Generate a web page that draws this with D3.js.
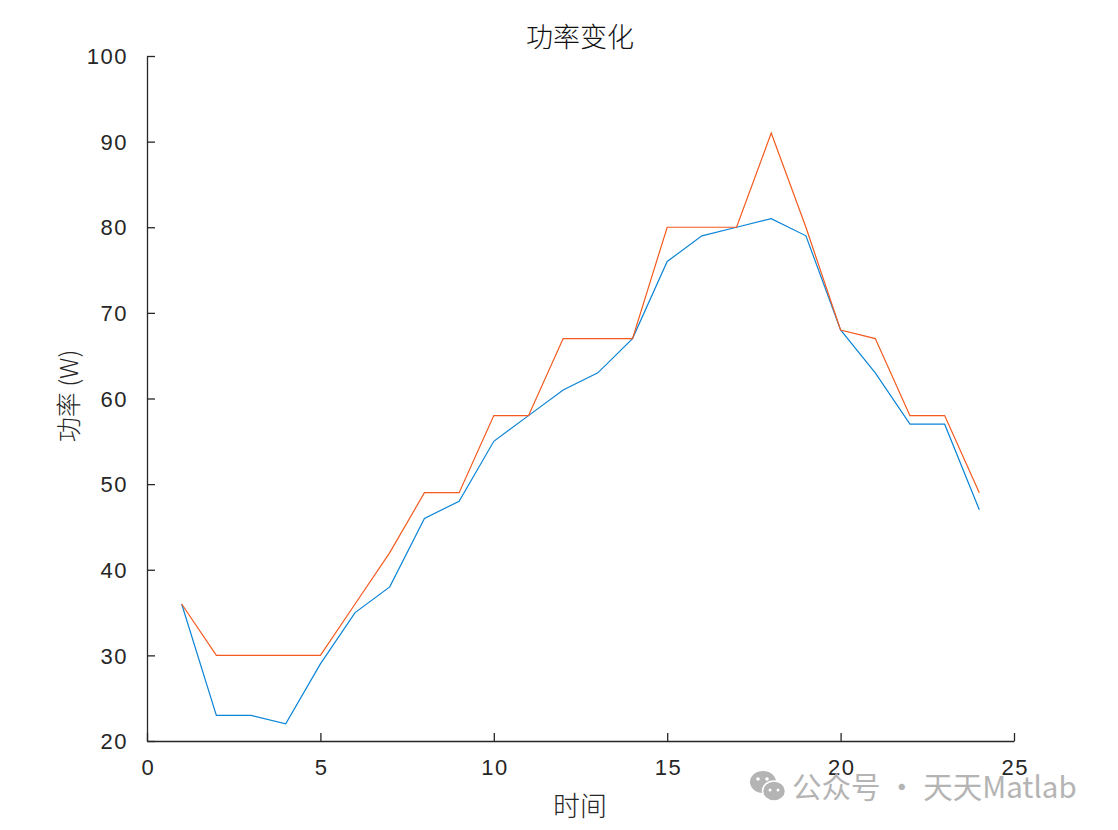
<!DOCTYPE html>
<html><head><meta charset="utf-8">
<script src="https://cdn.jsdelivr.net/npm/d3@7"></script>
<style>body{margin:0;background:#fff;} svg{display:block;}</style>
</head><body>
<svg id="c" width="1118" height="830"></svg>
<script>
const xValues = [1,2,3,4,5,6,7,8,9,10,11,12,13,14,15,16,17,18,19,20,21,22,23,24];
const blueSeries = [36,23,23,22,29,35,38,46,48,55,58,61,63,67,76,79,80,81,79,68,63,57,57,47];
const orangeSeries = [36,30,30,30,30,36,42,49,49,58,58,67,67,67,80,80,80,91,80,68,67,58,58,49];
const xTicks = [0,5,10,15,20,25];
const yTicks = [20,30,40,50,60,70,80,90,100];
const titleText = "功率变化";
const xLabel = "时间";
const yLabel = "功率 (W)";

const svg = d3.select("#c");
const x = d3.scaleLinear().domain([0,25]).range([147,1014]);
const y = d3.scaleLinear().domain([20,100]).range([741,56]);
const axisColor = "#262626";
const tickFont = "Liberation Sans, Arial, sans-serif";

const line = d3.line().x((d,i)=>x(xValues[i])).y(d=>y(d));
svg.append("path").datum(blueSeries).attr("d",line).attr("fill","none").attr("stroke","#0A84D6").attr("stroke-width",1.2);
svg.append("path").datum(orangeSeries).attr("d",line).attr("fill","none").attr("stroke","#F45A1E").attr("stroke-width",1.2);

const xAxis = d3.axisBottom(x).tickValues(xTicks).tickSizeInner(-8).tickSizeOuter(0).tickPadding(18);
const gx = svg.append("g").attr("transform","translate(0,741)").call(xAxis);
const yAxis = d3.axisLeft(y).tickValues(yTicks).tickSizeInner(-8).tickSizeOuter(0).tickPadding(19);
const gy = svg.append("g").attr("transform","translate(147,0)").call(yAxis);
[gx,gy].forEach(g=>{
  g.select(".domain").attr("stroke",axisColor).attr("stroke-width",1.3);
  g.selectAll(".tick line").attr("stroke",axisColor).attr("stroke-width",1.3);
  g.selectAll(".tick text").attr("fill",axisColor).style("font-family",tickFont).style("font-size","22px").style("letter-spacing","1.5px");
});
gy.selectAll(".tick text").attr("dy","0.35em");
gx.selectAll(".tick text").attr("dx","0.75px");

svg.append("text").attr("x",580).attr("y",47).attr("text-anchor","middle")
  .style("font-family","Noto Sans CJK SC").style("font-size","27px").style("font-weight","300").attr("fill","#111").text(titleText);
svg.append("text").attr("x",580).attr("y",816).attr("text-anchor","middle")
  .style("font-family","Noto Sans CJK SC").style("font-size","27px").style("font-weight","300").attr("fill","#262626").text(xLabel);
svg.append("text").attr("transform","translate(78,396) rotate(-90)").attr("text-anchor","middle")
  .style("font-family","Noto Sans CJK SC, Liberation Sans").style("font-size","25px").style("font-weight","300").attr("fill","#262626").text(yLabel);

// watermark
const wm = svg.append("g").attr("fill","#b4b4b4");
wm.append("ellipse").attr("cx",763).attr("cy",782).attr("rx",13).attr("ry",11);
wm.append("ellipse").attr("cx",774).attr("cy",791).attr("rx",11.5).attr("ry",10).attr("stroke","#fff").attr("stroke-width",1.5);
wm.append("circle").attr("cx",758).attr("cy",779).attr("r",1.8).attr("fill","#fff");
wm.append("circle").attr("cx",767).attr("cy",779).attr("r",1.8).attr("fill","#fff");
wm.append("circle").attr("cx",770).attr("cy",790).attr("r",1.5).attr("fill","#fff");
wm.append("circle").attr("cx",778).attr("cy",790).attr("r",1.5).attr("fill","#fff");
wm.append("text").attr("x",792).attr("y",798).style("font-family","Noto Sans CJK SC").style("font-size","29.5px").text("公众号 · 天天Matlab");
</script>
</body></html>
